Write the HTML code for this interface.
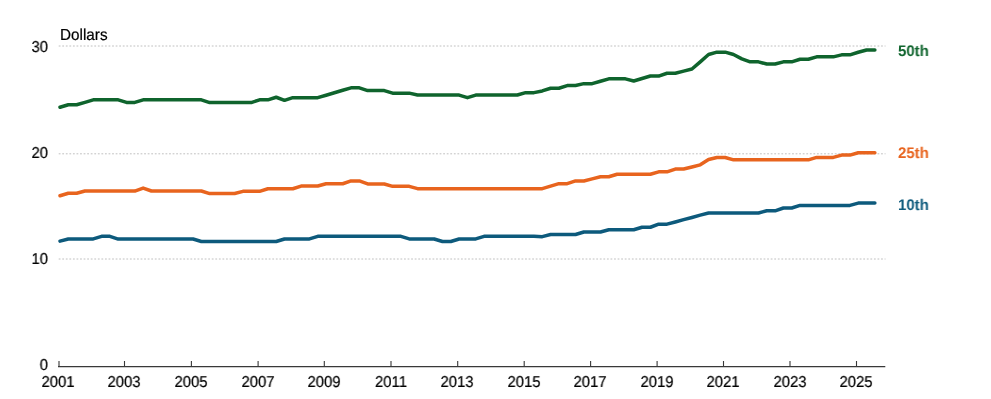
<!DOCTYPE html>
<html><head><meta charset="utf-8"><style>
html,body{margin:0;padding:0;background:#fff;width:991px;height:399px;overflow:hidden}
body{position:relative;font-family:"Liberation Sans",sans-serif;color:#000}
svg{position:absolute;left:0;top:0}
.g{stroke:#c0c0c0;stroke-width:1;stroke-dasharray:1.8 1.76}
.t{stroke:#383838;stroke-width:1.1}
.ax{stroke:#383838;stroke-width:1.2}
.ln{fill:none;stroke-width:3.5;stroke-linejoin:round;stroke-linecap:round}
.tx{position:absolute;white-space:nowrap;will-change:transform;-webkit-text-stroke:0.2px currentColor;text-rendering:geometricPrecision}
</style></head><body>
<svg width="991" height="399" viewBox="0 0 991 399">
<line x1="58.7" y1="46.0" x2="885.5" y2="46.0" class="g"/><line x1="58.7" y1="153.8" x2="885.5" y2="153.8" class="g"/><line x1="58.7" y1="259.0" x2="885.5" y2="259.0" class="g"/>
<line x1="58" y1="366.6" x2="885.3" y2="366.6" class="ax"/>
<line x1="59.00" y1="361" x2="59.00" y2="366.4" class="t"/><line x1="124.50" y1="361" x2="124.50" y2="366.4" class="t"/><line x1="191.40" y1="361" x2="191.40" y2="366.4" class="t"/><line x1="258.10" y1="361" x2="258.10" y2="366.4" class="t"/><line x1="324.30" y1="361" x2="324.30" y2="366.4" class="t"/><line x1="391.00" y1="361" x2="391.00" y2="366.4" class="t"/><line x1="457.70" y1="361" x2="457.70" y2="366.4" class="t"/><line x1="524.20" y1="361" x2="524.20" y2="366.4" class="t"/><line x1="590.60" y1="361" x2="590.60" y2="366.4" class="t"/><line x1="657.10" y1="361" x2="657.10" y2="366.4" class="t"/><line x1="723.50" y1="361" x2="723.50" y2="366.4" class="t"/><line x1="790.00" y1="361" x2="790.00" y2="366.4" class="t"/><line x1="856.50" y1="361" x2="856.50" y2="366.4" class="t"/>
<path class="ln" stroke="#0f642d" d="M60.00 107.30 L68.31 104.80 L76.63 104.80 L84.94 102.35 L93.26 99.85 L101.57 99.85 L109.89 99.85 L118.20 99.85 L126.52 102.45 L134.83 102.45 L143.15 99.85 L151.46 99.85 L159.78 99.85 L168.09 99.85 L176.41 99.85 L184.72 99.85 L193.04 99.85 L201.35 99.85 L209.67 102.55 L217.98 102.55 L226.30 102.55 L234.61 102.55 L242.93 102.55 L251.24 102.55 L259.56 99.85 L267.88 99.85 L276.19 97.25 L284.50 100.35 L292.82 97.65 L301.13 97.65 L309.45 97.65 L317.76 97.65 L326.08 95.20 L334.39 92.75 L342.71 90.30 L351.02 87.85 L359.34 87.85 L367.65 90.55 L375.97 90.55 L384.28 90.55 L392.60 93.15 L400.91 93.15 L409.23 93.15 L417.54 95.05 L425.86 95.05 L434.17 95.05 L442.49 95.05 L450.80 95.05 L459.12 95.05 L467.44 97.65 L475.75 95.05 L484.06 95.05 L492.38 95.05 L500.69 95.05 L509.01 95.05 L517.33 95.05 L525.64 92.65 L533.95 92.65 L542.27 90.95 L550.59 88.25 L558.90 88.25 L567.21 85.55 L575.53 85.55 L583.84 83.65 L592.16 83.65 L600.48 81.25 L608.79 78.85 L617.11 78.85 L625.42 78.85 L633.74 80.95 L642.05 78.45 L650.37 76.05 L658.68 76.05 L667.00 73.25 L675.31 73.25 L683.62 71.15 L691.94 69.05 L700.25 61.85 L708.57 54.55 L716.88 52.15 L725.20 52.15 L733.51 54.55 L741.83 58.85 L750.14 61.85 L758.46 61.85 L766.77 64.05 L775.09 64.05 L783.40 61.85 L791.72 61.85 L800.03 59.25 L808.35 59.25 L816.66 56.85 L824.98 56.85 L833.29 56.85 L841.61 54.85 L849.92 54.85 L858.24 52.25 L866.55 49.95 L874.87 49.95"/>
<path class="ln" stroke="#e8641e" d="M60.00 195.75 L68.31 193.25 L76.63 193.25 L84.94 191.05 L93.26 191.05 L101.57 191.05 L109.89 191.05 L118.20 191.05 L126.52 191.05 L134.83 191.05 L143.15 188.05 L151.46 191.00 L159.78 191.00 L168.09 191.00 L176.41 191.00 L184.72 191.00 L193.04 191.00 L201.35 191.00 L209.67 193.55 L217.98 193.55 L226.30 193.55 L234.61 193.55 L242.93 191.35 L251.24 191.35 L259.56 191.35 L267.88 188.75 L276.19 188.75 L284.50 188.75 L292.82 188.75 L301.13 186.05 L309.45 186.05 L317.76 186.05 L326.08 183.75 L334.39 183.75 L342.71 183.75 L351.02 180.95 L359.34 180.95 L367.65 183.95 L375.97 183.95 L384.28 183.95 L392.60 186.35 L400.91 186.35 L409.23 186.35 L417.54 188.65 L425.86 188.65 L434.17 188.65 L442.49 188.65 L450.80 188.65 L459.12 188.65 L467.44 188.65 L475.75 188.65 L484.06 188.65 L492.38 188.65 L500.69 188.65 L509.01 188.65 L517.33 188.65 L525.64 188.65 L533.95 188.65 L542.27 188.65 L550.59 186.15 L558.90 183.65 L567.21 183.65 L575.53 180.95 L583.84 180.95 L592.16 178.85 L600.48 176.75 L608.79 176.75 L617.11 174.25 L625.42 174.25 L633.74 174.25 L642.05 174.25 L650.37 174.25 L658.68 171.85 L667.00 171.85 L675.31 169.05 L683.62 169.05 L691.94 166.95 L700.25 164.85 L708.57 159.55 L716.88 157.55 L725.20 157.55 L733.51 159.85 L741.83 159.85 L750.14 159.85 L758.46 159.85 L766.77 159.85 L775.09 159.85 L783.40 159.85 L791.72 159.85 L800.03 159.85 L808.35 159.85 L816.66 157.40 L824.98 157.40 L833.29 157.40 L841.61 155.10 L849.92 155.10 L858.24 152.80 L866.55 152.80 L874.87 152.80"/>
<path class="ln" stroke="#0d5a7c" d="M60.00 241.15 L68.31 238.95 L76.63 238.95 L84.94 238.95 L93.26 238.95 L101.57 236.35 L109.89 236.35 L118.20 239.05 L126.52 239.05 L134.83 239.05 L143.15 239.05 L151.46 239.05 L159.78 239.05 L168.09 239.05 L176.41 239.05 L184.72 239.05 L193.04 239.05 L201.35 241.45 L209.67 241.45 L217.98 241.45 L226.30 241.45 L234.61 241.45 L242.93 241.45 L251.24 241.45 L259.56 241.45 L267.88 241.45 L276.19 241.45 L284.50 238.95 L292.82 238.95 L301.13 238.95 L309.45 238.95 L317.76 236.35 L326.08 236.35 L334.39 236.35 L342.71 236.35 L351.02 236.35 L359.34 236.35 L367.65 236.35 L375.97 236.35 L384.28 236.35 L392.60 236.35 L400.91 236.35 L409.23 238.95 L417.54 238.95 L425.86 238.95 L434.17 238.95 L442.49 241.45 L450.80 241.45 L459.12 238.95 L467.44 238.95 L475.75 238.95 L484.06 236.35 L492.38 236.35 L500.69 236.35 L509.01 236.35 L517.33 236.35 L525.64 236.35 L533.95 236.35 L542.27 236.65 L550.59 234.55 L558.90 234.55 L567.21 234.55 L575.53 234.55 L583.84 232.05 L592.16 232.05 L600.48 232.05 L608.79 229.75 L617.11 229.75 L625.42 229.75 L633.74 229.75 L642.05 227.25 L650.37 227.25 L658.68 224.15 L667.00 224.15 L675.31 221.95 L683.62 219.65 L691.94 217.45 L700.25 215.15 L708.57 212.95 L716.88 212.95 L725.20 212.95 L733.51 212.95 L741.83 212.95 L750.14 212.95 L758.46 212.95 L766.77 210.80 L775.09 210.80 L783.40 208.00 L791.72 208.00 L800.03 205.40 L808.35 205.40 L816.66 205.40 L824.98 205.40 L833.29 205.40 L841.61 205.40 L849.92 205.40 L858.24 203.10 L866.55 203.10 L874.87 203.10"/>
</svg>
<div class="tx" style="left:59.90px;top:28.40px;font-size:15.30px;line-height:15.30px;transform:scale(1.000,1.040);transform-origin:left center;">Dollars</div>
<div class="tx" style="left:-52.15px;width:100px;text-align:right;top:39.50px;font-size:15.80px;line-height:15.80px;transform:scale(0.945,1.000);transform-origin:right center;">30</div>
<div class="tx" style="left:-52.15px;width:100px;text-align:right;top:145.50px;font-size:15.80px;line-height:15.80px;transform:scale(0.945,1.000);transform-origin:right center;">20</div>
<div class="tx" style="left:-52.15px;width:100px;text-align:right;top:251.50px;font-size:15.80px;line-height:15.80px;transform:scale(0.945,1.000);transform-origin:right center;">10</div>
<div class="tx" style="left:-52.15px;width:100px;text-align:right;top:357.50px;font-size:15.80px;line-height:15.80px;transform:scale(0.945,1.000);transform-origin:right center;">0</div>
<div class="tx" style="left:898.10px;top:44.10px;font-size:15.40px;line-height:15.40px;font-weight:bold;-webkit-text-stroke:0;color:#0f642d;transform:scale(0.975,1.000);transform-origin:left center;">50th</div>
<div class="tx" style="left:898.10px;top:146.10px;font-size:15.40px;line-height:15.40px;font-weight:bold;-webkit-text-stroke:0;color:#e8641e;transform:scale(0.975,1.000);transform-origin:left center;">25th</div>
<div class="tx" style="left:898.10px;top:197.60px;font-size:15.40px;line-height:15.40px;font-weight:bold;-webkit-text-stroke:0;color:#0d5a7c;transform:scale(0.975,1.000);transform-origin:left center;">10th</div>
<div class="tx" style="left:7.65px;width:100px;text-align:center;top:374.60px;font-size:15.80px;line-height:15.80px;transform:scale(0.945,1.000);transform-origin:center center;">2001</div>
<div class="tx" style="left:74.10px;width:100px;text-align:center;top:374.60px;font-size:15.80px;line-height:15.80px;transform:scale(0.945,1.000);transform-origin:center center;">2003</div>
<div class="tx" style="left:141.00px;width:100px;text-align:center;top:374.60px;font-size:15.80px;line-height:15.80px;transform:scale(0.945,1.000);transform-origin:center center;">2005</div>
<div class="tx" style="left:207.70px;width:100px;text-align:center;top:374.60px;font-size:15.80px;line-height:15.80px;transform:scale(0.945,1.000);transform-origin:center center;">2007</div>
<div class="tx" style="left:273.90px;width:100px;text-align:center;top:374.60px;font-size:15.80px;line-height:15.80px;transform:scale(0.945,1.000);transform-origin:center center;">2009</div>
<div class="tx" style="left:340.60px;width:100px;text-align:center;top:374.60px;font-size:15.80px;line-height:15.80px;transform:scale(0.945,1.000);transform-origin:center center;">2011</div>
<div class="tx" style="left:407.30px;width:100px;text-align:center;top:374.60px;font-size:15.80px;line-height:15.80px;transform:scale(0.945,1.000);transform-origin:center center;">2013</div>
<div class="tx" style="left:473.80px;width:100px;text-align:center;top:374.60px;font-size:15.80px;line-height:15.80px;transform:scale(0.945,1.000);transform-origin:center center;">2015</div>
<div class="tx" style="left:540.20px;width:100px;text-align:center;top:374.60px;font-size:15.80px;line-height:15.80px;transform:scale(0.945,1.000);transform-origin:center center;">2017</div>
<div class="tx" style="left:606.70px;width:100px;text-align:center;top:374.60px;font-size:15.80px;line-height:15.80px;transform:scale(0.945,1.000);transform-origin:center center;">2019</div>
<div class="tx" style="left:673.10px;width:100px;text-align:center;top:374.60px;font-size:15.80px;line-height:15.80px;transform:scale(0.945,1.000);transform-origin:center center;">2021</div>
<div class="tx" style="left:739.60px;width:100px;text-align:center;top:374.60px;font-size:15.80px;line-height:15.80px;transform:scale(0.945,1.000);transform-origin:center center;">2023</div>
<div class="tx" style="left:806.10px;width:100px;text-align:center;top:374.60px;font-size:15.80px;line-height:15.80px;transform:scale(0.945,1.000);transform-origin:center center;">2025</div>
</body></html>
